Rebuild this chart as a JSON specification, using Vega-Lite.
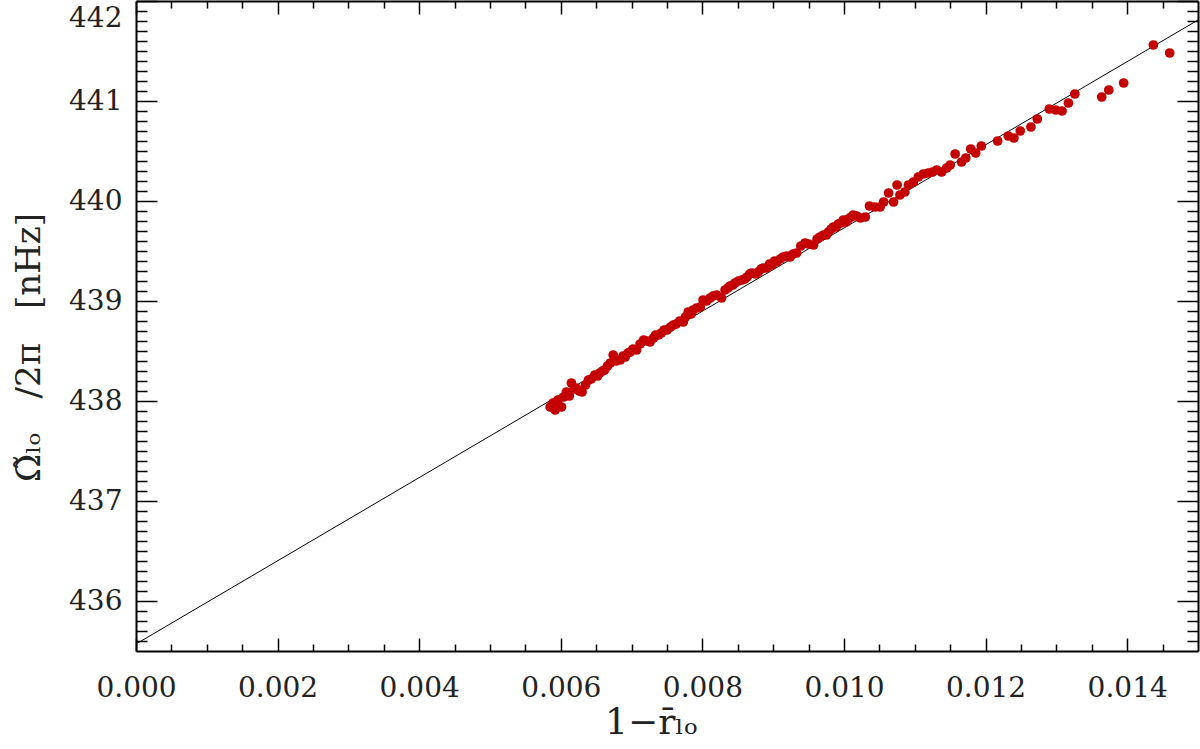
{
  "$schema": "https://vega.github.io/schema/vega-lite/v6.json",
  "width": 1062,
  "height": 650,
  "autosize": {"type": "none"},
  "padding": {"left": 136, "top": 1, "right": 2, "bottom": 98},
  "background": "white",
  "config": {
    "view": {"stroke": null},
    "axis": {"grid": false, "labelFont": "DejaVu Serif", "titleFont": "DejaVu Serif", "labelColor": "#222", "titleColor": "#222", "domainColor": "#000", "tickColor": "#000"}
  },
  "datasets": {
    "fit": [{"x": 0, "y": 435.57}, {"x": 0.015, "y": 441.81}],
    "pts": [
      {"x": 0.00585, "y": 437.94}, {"x": 0.00589, "y": 437.98}, {"x": 0.00592, "y": 437.91}, {"x": 0.00596, "y": 438.01},
      {"x": 0.00601, "y": 437.94}, {"x": 0.00604, "y": 438.04}, {"x": 0.00608, "y": 438.09}, {"x": 0.00612, "y": 438.05},
      {"x": 0.00615, "y": 438.18}, {"x": 0.00619, "y": 438.12}, {"x": 0.00622, "y": 438.13}, {"x": 0.00626, "y": 438.10},
      {"x": 0.0063, "y": 438.09}, {"x": 0.00635, "y": 438.16}, {"x": 0.00639, "y": 438.21}, {"x": 0.00643, "y": 438.22},
      {"x": 0.00648, "y": 438.26}, {"x": 0.00652, "y": 438.25}, {"x": 0.00655, "y": 438.28}, {"x": 0.00659, "y": 438.30},
      {"x": 0.00662, "y": 438.31}, {"x": 0.00666, "y": 438.35}, {"x": 0.0067, "y": 438.38}, {"x": 0.00674, "y": 438.46},
      {"x": 0.00678, "y": 438.40}, {"x": 0.00684, "y": 438.41}, {"x": 0.00688, "y": 438.45}, {"x": 0.00691, "y": 438.44},
      {"x": 0.00695, "y": 438.48}, {"x": 0.00698, "y": 438.49}, {"x": 0.00702, "y": 438.52}, {"x": 0.00707, "y": 438.51},
      {"x": 0.00712, "y": 438.57}, {"x": 0.00717, "y": 438.61}, {"x": 0.00722, "y": 438.60}, {"x": 0.00726, "y": 438.59},
      {"x": 0.00731, "y": 438.63}, {"x": 0.00734, "y": 438.66}, {"x": 0.00738, "y": 438.66}, {"x": 0.00742, "y": 438.68},
      {"x": 0.00746, "y": 438.71}, {"x": 0.0075, "y": 438.71}, {"x": 0.00755, "y": 438.74}, {"x": 0.00759, "y": 438.76},
      {"x": 0.00763, "y": 438.77}, {"x": 0.00768, "y": 438.80}, {"x": 0.00773, "y": 438.79}, {"x": 0.00776, "y": 438.84},
      {"x": 0.0078, "y": 438.89}, {"x": 0.00784, "y": 438.87}, {"x": 0.00787, "y": 438.91}, {"x": 0.00792, "y": 438.93},
      {"x": 0.00797, "y": 438.94}, {"x": 0.00801, "y": 439.01}, {"x": 0.00806, "y": 439.00}, {"x": 0.00811, "y": 439.03},
      {"x": 0.00815, "y": 439.05}, {"x": 0.0082, "y": 439.06}, {"x": 0.00827, "y": 439.03}, {"x": 0.00832, "y": 439.11},
      {"x": 0.00836, "y": 439.13}, {"x": 0.00839, "y": 439.15}, {"x": 0.00843, "y": 439.16}, {"x": 0.00846, "y": 439.18},
      {"x": 0.00851, "y": 439.20}, {"x": 0.00856, "y": 439.21}, {"x": 0.0086, "y": 439.22}, {"x": 0.00863, "y": 439.24},
      {"x": 0.00867, "y": 439.27}, {"x": 0.0087, "y": 439.28}, {"x": 0.00875, "y": 439.27}, {"x": 0.00879, "y": 439.29},
      {"x": 0.00883, "y": 439.32}, {"x": 0.00886, "y": 439.33}, {"x": 0.00891, "y": 439.33}, {"x": 0.00895, "y": 439.37},
      {"x": 0.00898, "y": 439.36}, {"x": 0.00902, "y": 439.40}, {"x": 0.00905, "y": 439.39}, {"x": 0.0091, "y": 439.42},
      {"x": 0.00914, "y": 439.44}, {"x": 0.00919, "y": 439.45}, {"x": 0.00924, "y": 439.44}, {"x": 0.00928, "y": 439.47},
      {"x": 0.00933, "y": 439.48}, {"x": 0.00939, "y": 439.55}, {"x": 0.00945, "y": 439.58}, {"x": 0.0095, "y": 439.57},
      {"x": 0.00957, "y": 439.56}, {"x": 0.00962, "y": 439.62}, {"x": 0.00966, "y": 439.64}, {"x": 0.00971, "y": 439.66},
      {"x": 0.00975, "y": 439.66}, {"x": 0.00978, "y": 439.69}, {"x": 0.00982, "y": 439.72}, {"x": 0.00985, "y": 439.74},
      {"x": 0.00989, "y": 439.74}, {"x": 0.00992, "y": 439.77}, {"x": 0.00996, "y": 439.78}, {"x": 0.00999, "y": 439.81},
      {"x": 0.01003, "y": 439.79}, {"x": 0.01006, "y": 439.82}, {"x": 0.0101, "y": 439.84}, {"x": 0.01013, "y": 439.86},
      {"x": 0.01018, "y": 439.85}, {"x": 0.01023, "y": 439.83}, {"x": 0.0103, "y": 439.84}, {"x": 0.01036, "y": 439.95},
      {"x": 0.01044, "y": 439.94}, {"x": 0.01051, "y": 439.94}, {"x": 0.01056, "y": 439.99}, {"x": 0.01063, "y": 440.08},
      {"x": 0.0107, "y": 439.99}, {"x": 0.01075, "y": 440.16}, {"x": 0.01079, "y": 440.06}, {"x": 0.01086, "y": 440.09},
      {"x": 0.01091, "y": 440.16}, {"x": 0.01098, "y": 440.19}, {"x": 0.01105, "y": 440.24}, {"x": 0.01112, "y": 440.27},
      {"x": 0.01119, "y": 440.28}, {"x": 0.01125, "y": 440.29}, {"x": 0.01131, "y": 440.31}, {"x": 0.01138, "y": 440.29},
      {"x": 0.01145, "y": 440.33}, {"x": 0.0115, "y": 440.36}, {"x": 0.01157, "y": 440.47}, {"x": 0.01166, "y": 440.39},
      {"x": 0.01172, "y": 440.43}, {"x": 0.01179, "y": 440.52}, {"x": 0.01186, "y": 440.48}, {"x": 0.01194, "y": 440.55},
      {"x": 0.01217, "y": 440.60}, {"x": 0.01232, "y": 440.65}, {"x": 0.0124, "y": 440.63}, {"x": 0.01249, "y": 440.70},
      {"x": 0.01264, "y": 440.74}, {"x": 0.01273, "y": 440.82}, {"x": 0.0129, "y": 440.92}, {"x": 0.01299, "y": 440.91},
      {"x": 0.01308, "y": 440.90}, {"x": 0.01317, "y": 440.98}, {"x": 0.01326, "y": 441.07}, {"x": 0.01364, "y": 441.04},
      {"x": 0.01374, "y": 441.11}, {"x": 0.01395, "y": 441.18}, {"x": 0.01437, "y": 441.56}, {"x": 0.0146, "y": 441.48}
    ]
  },
  "resolve": {"axis": {"x": "independent", "y": "independent"}},
  "layer": [
    {
      "data": {"name": "fit"},
      "mark": {"type": "line", "color": "#000", "strokeWidth": 1},
      "encoding": {
        "x": {"field": "x", "type": "quantitative", "scale": {"domain": [0, 0.015], "nice": false, "zero": false},
          "axis": {"orient": "bottom", "values": [0, 0.002, 0.004, 0.006, 0.008, 0.01, 0.012, 0.014], "format": ".3f", "ticks": false, "domain": true, "domainWidth": 2, "labelFlush": false, "labelFontSize": 28, "labelPadding": 23, "title": "1\u2212r\u0304\u2097\u2092", "titleFontSize": 36, "titleFontWeight": "normal", "titlePadding": 3, "titleX": 515}},
        "y": {"field": "y", "type": "quantitative", "scale": {"domain": [435.5, 442], "nice": false, "zero": false},
          "axis": {"orient": "left", "values": [436, 437, 438, 439, 440, 441, 442], "format": "d", "ticks": false, "domain": true, "domainWidth": 2, "labelFontSize": 28, "labelPadding": 14, "labelFlush": true, "labelFlushOffset": -3, "title": "\u03a9\u0303\u2097\u2092\u2003/2\u03c0\u2003[nHz]", "titleFontSize": 34, "titleFontWeight": "normal", "titlePadding": 22, "titleY": 346}}
      }
    },
    {
      "data": {"name": "pts"},
      "mark": {"type": "point", "filled": true, "shape": "circle", "color": "#c40000", "opacity": 1, "size": 95},
      "encoding": {
        "x": {"field": "x", "type": "quantitative",
          "axis": {"orient": "bottom", "values": [0, 0.002, 0.004, 0.006, 0.008, 0.01, 0.012, 0.014], "labels": false, "domain": false, "tickSize": 13, "offset": -13, "tickWidth": 1.5, "title": null}},
        "y": {"field": "y", "type": "quantitative",
          "axis": {"orient": "left", "values": [436, 437, 438, 439, 440, 441, 442], "labels": false, "domain": false, "tickSize": 21, "offset": -21, "tickWidth": 1.5, "title": null}}
      }
    },
    {
      "data": {"name": "fit"},
      "mark": {"type": "point", "opacity": 0},
      "encoding": {
        "x": {"field": "x", "type": "quantitative",
          "axis": {"orient": "bottom", "values": [0.0005, 0.001, 0.0015, 0.0025, 0.003, 0.0035, 0.0045, 0.005, 0.0055, 0.0065, 0.007, 0.0075, 0.0085, 0.009, 0.0095, 0.0105, 0.011, 0.0115, 0.0125, 0.013, 0.0135, 0.0145], "labels": false, "domain": false, "tickSize": 7, "offset": -7, "tickWidth": 1.5, "title": null}},
        "y": {"field": "y", "type": "quantitative",
          "axis": {"orient": "left", "values": [435.6, 435.7, 435.8, 435.9, 436.1, 436.2, 436.3, 436.4, 436.5, 436.6, 436.7, 436.8, 436.9, 437.1, 437.2, 437.3, 437.4, 437.5, 437.6, 437.7, 437.8, 437.9, 438.1, 438.2, 438.3, 438.4, 438.5, 438.6, 438.7, 438.8, 438.9, 439.1, 439.2, 439.3, 439.4, 439.5, 439.6, 439.7, 439.8, 439.9, 440.1, 440.2, 440.3, 440.4, 440.5, 440.6, 440.7, 440.8, 440.9, 441.1, 441.2, 441.3, 441.4, 441.5, 441.6, 441.7, 441.8, 441.9], "labels": false, "domain": false, "tickSize": 11, "offset": -11, "tickWidth": 1.5, "title": null}}
      }
    },
    {
      "data": {"name": "fit"},
      "mark": {"type": "point", "opacity": 0},
      "encoding": {
        "x": {"field": "x", "type": "quantitative",
          "axis": {"orient": "top", "values": [0, 0.002, 0.004, 0.006, 0.008, 0.01, 0.012, 0.014], "labels": false, "domain": true, "domainWidth": 2, "domainColor": "#000", "ticks": false, "title": null}},
        "y": {"field": "y", "type": "quantitative",
          "axis": {"orient": "right", "values": [436, 437, 438, 439, 440, 441, 442], "labels": false, "domain": true, "domainWidth": 2, "ticks": false, "title": null}}
      }
    },
    {
      "data": {"name": "fit"},
      "mark": {"type": "point", "opacity": 0},
      "encoding": {
        "x": {"field": "x", "type": "quantitative",
          "axis": {"orient": "top", "values": [0, 0.002, 0.004, 0.006, 0.008, 0.01, 0.012, 0.014], "labels": false, "domain": false, "tickSize": 13, "offset": -13, "tickWidth": 1.5, "title": null}},
        "y": {"field": "y", "type": "quantitative",
          "axis": {"orient": "right", "values": [436, 437, 438, 439, 440, 441, 442], "labels": false, "domain": false, "tickSize": 21, "offset": -21, "tickWidth": 1.5, "title": null}}
      }
    },
    {
      "data": {"name": "fit"},
      "mark": {"type": "point", "opacity": 0},
      "encoding": {
        "x": {"field": "x", "type": "quantitative",
          "axis": {"orient": "top", "values": [0.0005, 0.001, 0.0015, 0.0025, 0.003, 0.0035, 0.0045, 0.005, 0.0055, 0.0065, 0.007, 0.0075, 0.0085, 0.009, 0.0095, 0.0105, 0.011, 0.0115, 0.0125, 0.013, 0.0135, 0.0145], "labels": false, "domain": false, "tickSize": 7, "offset": -7, "tickWidth": 1.5, "title": null}},
        "y": {"field": "y", "type": "quantitative",
          "axis": {"orient": "right", "values": [435.6, 435.7, 435.8, 435.9, 436.1, 436.2, 436.3, 436.4, 436.5, 436.6, 436.7, 436.8, 436.9, 437.1, 437.2, 437.3, 437.4, 437.5, 437.6, 437.7, 437.8, 437.9, 438.1, 438.2, 438.3, 438.4, 438.5, 438.6, 438.7, 438.8, 438.9, 439.1, 439.2, 439.3, 439.4, 439.5, 439.6, 439.7, 439.8, 439.9, 440.1, 440.2, 440.3, 440.4, 440.5, 440.6, 440.7, 440.8, 440.9, 441.1, 441.2, 441.3, 441.4, 441.5, 441.6, 441.7, 441.8, 441.9], "labels": false, "domain": false, "tickSize": 11, "offset": -11, "tickWidth": 1.5, "title": null}}
      }
    }
  ]
}
